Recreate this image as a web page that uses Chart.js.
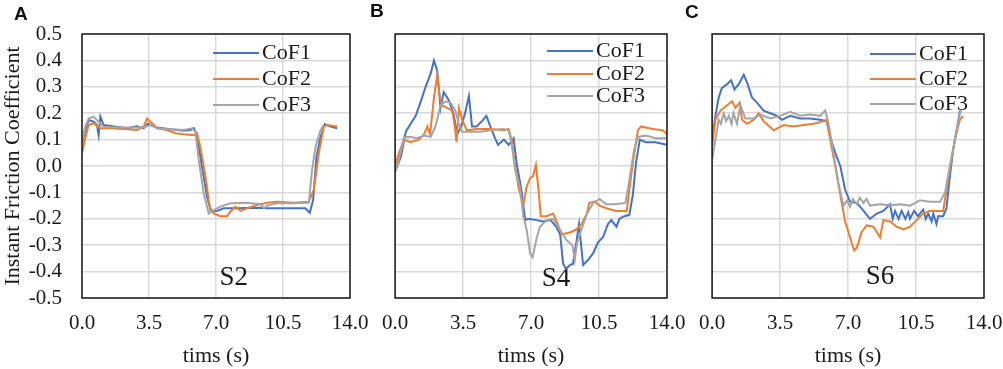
<!DOCTYPE html>
<html>
<head>
<meta charset="utf-8">
<script src="https://cdn.jsdelivr.net/npm/chart.js@4.4.0/dist/chart.umd.min.js"></script>
<style>
  body { margin: 0; background: #fff; width: 1003px; height: 369px; position: relative; overflow: hidden; }
  canvas { position: absolute; top: 0; }
  .tag { position: absolute; font: bold 19px 'Liberation Sans', Arial, sans-serif; line-height: 19px; color: #111; }
</style>
</head>
<body>
<canvas id="chartA" width="385" height="369" style="left:0px"></canvas>
<canvas id="chartB" width="333" height="369" style="left:369px"></canvas>
<canvas id="chartC" width="333" height="369" style="left:686px"></canvas>
<div class="tag" style="left:14px;top:4px">A</div>
<div class="tag" style="left:370px;top:1px">B</div>
<div class="tag" style="left:685px;top:2px">C</div>
<script>
// series names / colours (Excel defaults)
const seriesNames = ['CoF1', 'CoF2', 'CoF3'];
const seriesColors = ['#4472C4', '#ED7D31', '#A5A5A5'];

// axis ticks
const xTicks = [0, 3.5, 7, 10.5, 14];
const xTickLabels = ['0.0', '3.5', '7.0', '10.5', '14.0'];
const yTicks = [-0.5, -0.4, -0.3, -0.2, -0.1, 0, 0.1, 0.2, 0.3, 0.4, 0.5];
const yTickLabels = ['-0.5', '-0.4', '-0.3', '-0.2', '-0.1', '0.0', '0.1', '0.2', '0.3', '0.4', '0.5'];

// panel A (S2)
const aT1 = [0, 0.17, 0.35, 0.61, 0.78, 0.87, 0.96, 1.13, 1.66, 2.35, 2.87, 3.22, 3.43, 3.92, 4.62, 5.31, 5.66, 5.84, 6.01, 6.27, 6.53, 6.74, 7.06, 7.4, 8.1, 8.97, 9.67, 10.71, 11.67, 11.9, 12.07, 12.25, 12.46, 12.68, 12.98, 13.33];
const aV1 = [0.086, 0.136, 0.174, 0.168, 0.155, 0.117, 0.187, 0.155, 0.15, 0.143, 0.15, 0.143, 0.16, 0.146, 0.139, 0.134, 0.136, 0.143, 0.117, -0.003, -0.116, -0.173, -0.17, -0.16, -0.16, -0.158, -0.16, -0.16, -0.16, -0.177, -0.13, 0.035, 0.11, 0.159, 0.149, 0.143];
const aT2 = [0, 0.17, 0.35, 0.61, 0.96, 1.48, 2.35, 2.87, 3.22, 3.4, 3.66, 3.92, 4.44, 4.88, 5.31, 5.84, 6.01, 6.18, 6.45, 6.67, 6.88, 7.23, 7.58, 7.75, 8.01, 8.28, 8.62, 9.15, 9.67, 10.19, 11.06, 11.85, 12.11, 12.37, 12.63, 12.8, 13.33];
const aV2 = [0.048, 0.105, 0.155, 0.162, 0.143, 0.143, 0.139, 0.136, 0.149, 0.18, 0.162, 0.143, 0.136, 0.124, 0.12, 0.117, 0.124, 0.073, -0.04, -0.154, -0.18, -0.19, -0.19, -0.173, -0.154, -0.17, -0.16, -0.148, -0.139, -0.135, -0.139, -0.135, -0.09, 0.048, 0.149, 0.155, 0.15];
const aT3 = [0, 0.17, 0.35, 0.61, 0.78, 1.13, 1.83, 2.53, 3.22, 3.57, 3.92, 4.62, 5.31, 5.75, 5.92, 6.1, 6.36, 6.62, 6.88, 7.23, 7.75, 8.45, 9.32, 9.5, 9.67, 10.19, 11.06, 11.85, 12.02, 12.2, 12.46, 12.63];
const aV3 = [0.092, 0.149, 0.18, 0.187, 0.174, 0.149, 0.146, 0.146, 0.146, 0.155, 0.143, 0.139, 0.136, 0.143, 0.13, 0.023, -0.104, -0.18, -0.167, -0.154, -0.141, -0.139, -0.144, -0.16, -0.15, -0.141, -0.141, -0.139, -0.015, 0.073, 0.136, 0.155];

// panel B (S4)
const bT1 = [0, 0.3, 0.55, 0.8, 1.06, 1.3, 1.57, 1.83, 2.0, 2.17, 2.34, 2.5, 2.76, 3.0, 3.2, 3.4, 3.6, 3.8, 3.96, 4.2, 4.47, 4.7, 4.9, 5.15, 5.3, 5.6, 5.85, 6.1, 6.26, 6.5, 6.7, 6.86, 7.3, 7.6, 8.0, 8.3, 8.5, 8.65, 8.8, 9.0, 9.16, 9.33, 9.47, 9.68, 9.93, 10.2, 10.44, 10.7, 10.96, 11.13, 11.4, 11.55, 11.8, 12.06, 12.24, 12.4, 12.6, 12.9, 13.4, 14.0];
const bV1 = [-0.02, 0.035, 0.13, 0.16, 0.19, 0.24, 0.30, 0.35, 0.40, 0.36, 0.22, 0.28, 0.25, 0.20, 0.12, 0.15, 0.20, 0.265, 0.15, 0.15, 0.17, 0.19, 0.15, 0.105, 0.08, 0.10, 0.08, 0.105, 0.01, -0.09, -0.205, -0.2, -0.205, -0.21, -0.205, -0.23, -0.26, -0.37, -0.39, -0.375, -0.37, -0.29, -0.22, -0.375, -0.356, -0.33, -0.29, -0.27, -0.22, -0.205, -0.23, -0.2, -0.19, -0.185, -0.11, 0.01, 0.10, 0.09, 0.09, 0.08];
const bT2 = [0, 0.2, 0.46, 0.8, 1.23, 1.48, 1.66, 1.8, 2.0, 2.17, 2.3, 2.42, 2.68, 2.94, 3.07, 3.16, 3.28, 3.45, 3.7, 4.2, 4.9, 5.6, 5.84, 6.0, 6.18, 6.35, 6.6, 6.77, 6.95, 7.1, 7.25, 7.37, 7.5, 7.8, 8.14, 8.4, 8.57, 8.82, 9.08, 9.33, 9.6, 9.85, 10.0, 10.27, 10.53, 10.87, 11.38, 11.8, 11.93, 12.06, 12.24, 12.5, 12.66, 13.26, 13.8, 14.0];
const bV2 = [0.0, 0.05, 0.10, 0.09, 0.10, 0.12, 0.15, 0.12, 0.26, 0.345, 0.26, 0.23, 0.22, 0.21, 0.15, 0.09, 0.22, 0.175, 0.135, 0.14, 0.14, 0.135, 0.14, 0.10, 0.0, -0.08, -0.15, -0.08, -0.045, -0.04, 0.005, -0.08, -0.19, -0.19, -0.18, -0.225, -0.26, -0.255, -0.25, -0.24, -0.22, -0.185, -0.14, -0.135, -0.15, -0.16, -0.17, -0.17, -0.17, -0.09, 0.01, 0.135, 0.15, 0.14, 0.135, 0.12];
const bT3 = [0, 0.2, 0.46, 0.8, 1.14, 1.48, 1.83, 2.08, 2.34, 2.6, 2.85, 3.1, 3.28, 3.45, 3.87, 4.39, 4.9, 5.58, 5.84, 6.0, 6.18, 6.43, 6.6, 6.77, 6.95, 7.08, 7.3, 7.46, 7.8, 8.14, 8.48, 8.82, 9.13, 9.25, 9.37, 9.6, 9.85, 10.2, 10.53, 10.87, 11.38, 11.86, 12.06, 12.3, 12.5, 12.9, 13.43, 14.0];
const bV3 = [-0.02, 0.025, 0.11, 0.11, 0.105, 0.115, 0.11, 0.15, 0.23, 0.245, 0.24, 0.21, 0.16, 0.13, 0.13, 0.13, 0.135, 0.14, 0.135, 0.085, -0.015, -0.08, -0.19, -0.24, -0.33, -0.345, -0.27, -0.23, -0.205, -0.2, -0.24, -0.28, -0.30, -0.356, -0.29, -0.24, -0.185, -0.14, -0.125, -0.145, -0.145, -0.14, -0.055, 0.06, 0.11, 0.115, 0.105, 0.105];

// panel C (S6)
const cT1 = [0, 0.17, 0.34, 0.5, 0.77, 0.98, 1.15, 1.37, 1.63, 1.83, 2.05, 2.31, 2.65, 3.0, 3.34, 3.6, 4.02, 4.54, 5.05, 5.56, 5.9, 6.08, 6.34, 6.6, 6.85, 7.1, 7.45, 7.8, 8.13, 8.48, 8.82, 9.16, 9.3, 9.42, 9.6, 9.76, 9.95, 10.1, 10.19, 10.4, 10.6, 10.87, 11.0, 11.13, 11.3, 11.39, 11.55, 11.64, 11.9, 12.07, 12.24, 12.41, 12.59, 12.76];
const cV1 = [0.10, 0.19, 0.26, 0.295, 0.31, 0.325, 0.29, 0.31, 0.345, 0.31, 0.26, 0.24, 0.21, 0.20, 0.19, 0.175, 0.19, 0.18, 0.18, 0.175, 0.17, 0.11, 0.05, 0.0, -0.09, -0.135, -0.14, -0.17, -0.2, -0.18, -0.17, -0.145, -0.2, -0.17, -0.2, -0.17, -0.2, -0.175, -0.2, -0.17, -0.19, -0.165, -0.2, -0.18, -0.21, -0.18, -0.22, -0.19, -0.19, -0.16, -0.04, 0.06, 0.135, 0.21];
const cT2 = [0, 0.17, 0.43, 0.77, 1.03, 1.2, 1.42, 1.54, 1.8, 2.14, 2.4, 2.65, 3.17, 3.68, 4.2, 4.7, 5.22, 5.74, 5.9, 6.08, 6.34, 6.6, 6.85, 7.1, 7.31, 7.45, 7.7, 7.96, 8.3, 8.65, 8.82, 9.16, 9.5, 9.85, 10.19, 10.53, 10.87, 11.2, 11.56, 11.9, 12.07, 12.24, 12.5, 12.76, 12.93];
const cV2 = [0.075, 0.175, 0.21, 0.23, 0.245, 0.22, 0.24, 0.175, 0.16, 0.175, 0.2, 0.17, 0.135, 0.155, 0.15, 0.155, 0.16, 0.17, 0.175, 0.10, 0.0, -0.11, -0.21, -0.27, -0.32, -0.31, -0.25, -0.225, -0.23, -0.27, -0.205, -0.21, -0.23, -0.24, -0.23, -0.205, -0.18, -0.17, -0.17, -0.17, -0.09, -0.015, 0.10, 0.175, 0.19];
const cT3 = [0, 0.17, 0.34, 0.45, 0.6, 0.72, 0.86, 1.0, 1.1, 1.28, 1.46, 1.71, 2.14, 2.48, 3.0, 3.5, 4.02, 4.54, 5.05, 5.56, 5.82, 6.0, 6.25, 6.5, 6.76, 6.95, 7.1, 7.25, 7.45, 7.6, 7.8, 7.95, 8.13, 8.65, 9.16, 9.67, 10.19, 10.7, 11.2, 11.73, 12.0, 12.24, 12.5, 12.76, 12.84];
const cV3 = [0.025, 0.10, 0.175, 0.16, 0.20, 0.17, 0.19, 0.16, 0.2, 0.16, 0.23, 0.18, 0.18, 0.195, 0.18, 0.19, 0.205, 0.19, 0.195, 0.19, 0.21, 0.16, 0.05, -0.065, -0.15, -0.13, -0.155, -0.125, -0.145, -0.12, -0.14, -0.125, -0.15, -0.145, -0.15, -0.145, -0.15, -0.13, -0.135, -0.135, -0.1, 0.0, 0.10, 0.2, 0.21];

Chart.defaults.font.family = "'Liberation Serif', 'Times New Roman', serif";
Chart.defaults.font.weight = 'normal';
Chart.defaults.color = '#1a1a1a';

// in-plot legend, sample label and plot box
const panelDecor = {
  id: 'panelDecor',
  beforeDatasetsDraw(chart, args, o) {
    const { ctx, chartArea: a } = chart;
    ctx.save();
    ctx.font = "22px 'Liberation Serif'";
    ctx.textBaseline = 'middle';
    chart.data.datasets.forEach((ds, i) => {
      const y = a.top + o.legendY[i];
      const x0 = a.right - o.legendX;
      ctx.strokeStyle = ds.borderColor;
      ctx.lineWidth = 2;
      ctx.beginPath();
      ctx.moveTo(x0, y);
      ctx.lineTo(x0 + 46, y);
      ctx.stroke();
      ctx.fillStyle = '#1a1a1a';
      ctx.fillText(ds.label, x0 + 49, y);
    });
    ctx.font = "27px 'Liberation Serif'";
    ctx.textAlign = 'center';
    ctx.fillText(o.sample, chart.scales.x.getPixelForValue(o.sampleAt[0]), chart.scales.y.getPixelForValue(o.sampleAt[1]));
    ctx.restore();
  },
  afterDatasetsDraw(chart) {
    const { ctx, chartArea: a } = chart;
    ctx.save();
    ctx.strokeStyle = '#1a1a1a';
    ctx.lineWidth = 1.5;
    ctx.strokeRect(a.left, a.top, a.right - a.left, a.bottom - a.top);
    ctx.restore();
  }
};

function makeChart(id, times, values, opt) {
  return new Chart(document.getElementById(id), {
    type: 'line',
    data: {
      datasets: times.map((t, i) => ({
        label: seriesNames[i],
        data: t.map((x, k) => ({ x: x, y: values[i][k] })),
        borderColor: seriesColors[i],
        borderWidth: 2,
        pointRadius: 0,
        tension: 0,
        fill: false,
        order: 3 - i
      }))
    },
    options: {
      responsive: false,
      animation: false,
      layout: { padding: { top: 34, right: opt.padRight, bottom: 0, left: 0 } },
      plugins: {
        legend: { display: false },
        tooltip: { enabled: false },
        panelDecor: opt.decor
      },
      scales: {
        x: {
          type: 'linear', min: 0, max: 14,
          afterBuildTicks: s => { s.ticks = xTicks.map(v => ({ value: v })); },
          afterFit: s => { s.height = 71; },
          ticks: { autoSkip: false, maxRotation: 0, padding: 13, font: { size: 21 }, callback: (v, i) => xTickLabels[i] },
          grid: { color: '#d9d9d9', lineWidth: 1.5, drawTicks: false },
          border: { display: false },
          title: { display: true, text: 'tims (s)', font: { size: 22, weight: 'normal' }, padding: 0 }
        },
        y: {
          type: 'linear', min: -0.5, max: 0.5,
          afterBuildTicks: s => { s.ticks = yTicks.map(v => ({ value: v })); },
          afterFit: s => { s.width = opt.yWidth; },
          ticks: { display: opt.yLabels, autoSkip: false, padding: 20, font: { size: 21 }, callback: (v, i) => yTickLabels[i] },
          grid: { color: '#d9d9d9', lineWidth: 1.5, drawTicks: false },
          border: { display: false },
          title: { display: opt.yLabels, text: 'Instant Friction Coefficient', font: { size: 22, weight: 'normal' }, padding: 0 }
        }
      }
    },
    plugins: [panelDecor]
  });
}

makeChart('chartA', [aT1, aT2, aT3], [aV1, aV2, aV3], {
  padRight: 35, yWidth: 82, yLabels: true,
  decor: { legendX: 137, legendY: [19, 45, 71], sample: 'S2', sampleAt: [7.93, -0.422] }
});
makeChart('chartB', [bT1, bT2, bT3], [bV1, bV2, bV3], {
  padRight: 35, yWidth: 26, yLabels: false,
  decor: { legendX: 120, legendY: [17, 40, 62], sample: 'S4', sampleAt: [8.29, -0.428] }
});
makeChart('chartC', [cT1, cT2, cT3], [cV1, cV2, cV3], {
  padRight: 35, yWidth: 26, yLabels: false,
  decor: { legendX: 114, legendY: [20, 45, 70], sample: 'S6', sampleAt: [8.65, -0.42] }
});
</script>
</body>
</html>
